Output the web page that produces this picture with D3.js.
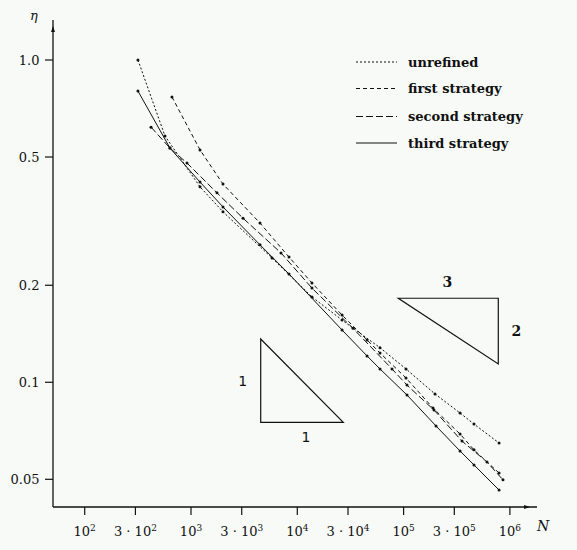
<!DOCTYPE html>
<html>
<head>
<meta charset="utf-8">
<script src="https://cdn.jsdelivr.net/npm/d3@7"></script>
<style>
  html, body { margin: 0; padding: 0; background: #f7faf7; }
  svg { display: block; font-family: "DejaVu Serif", serif; }
</style>
</head>
<body>
<svg id="chart" width="577" height="550"></svg>
<script>
// data (N = degrees of freedom, eta = error estimator)
const unrefinedN   = [317, 569, 1216, 2000, 5780, 13740, 26360, 59980, 105400, 197300, 339600, 459200, 790600];
const unrefinedEta = [1.0, 0.581, 0.404, 0.338, 0.243, 0.184, 0.156, 0.128, 0.110, 0.092, 0.0803, 0.0742, 0.0648];

const firstN   = [662, 1216, 2000, 4457, 8356, 13740, 26360, 45290, 59980, 105400, 189100, 339600, 459200, 790600];
const firstEta = [0.768, 0.526, 0.412, 0.312, 0.2446, 0.2033, 0.1617, 0.1353, 0.1233, 0.1031, 0.0832, 0.0691, 0.0617, 0.0523];

const secondN   = [421, 634, 917, 1756, 3085, 7024, 13740, 33420, 77800, 107700, 193200, 354300, 608700, 861000];
const secondEta = [0.619, 0.533, 0.479, 0.387, 0.323, 0.252, 0.196, 0.147, 0.110, 0.098, 0.082, 0.0657, 0.0566, 0.0498];

const thirdN   = [317, 634, 1216, 2000, 4457, 8356, 26360, 45290, 59980, 107700, 201700, 339600, 459200, 790600];
const thirdEta = [0.801, 0.533, 0.418, 0.350, 0.267, 0.2168, 0.1453, 0.1207, 0.1100, 0.0913, 0.0732, 0.0612, 0.0554, 0.0463];

const seriesNames = ["unrefined", "first strategy", "second strategy", "third strategy"];

const xTicks = [1e2, 3e2, 1e3, 3e3, 1e4, 3e4, 1e5, 3e5, 1e6];
const xTickBase = ["10", "3 · 10", "10", "3 · 10", "10", "3 · 10", "10", "3 · 10", "10"];
const xTickExp  = ["2", "2", "3", "3", "4", "4", "5", "5", "6"];
const yTicks = [1.0, 0.5, 0.2, 0.1, 0.05];
const yTickLabels = ["1.0", "0.5", "0.2", "0.1", "0.05"];

// slope triangles (N, eta corners)
const triangleLeft  = [[4526, 0.1362], [4526, 0.0751], [27080, 0.0751]];
const triangleRight = [[89150, 0.1823], [777700, 0.1823], [777700, 0.1140]];

const svg = d3.select("#chart");
const x = d3.scaleLog().domain([1e2, 1e6]).range([84.7, 509.9]);
const y = d3.scaleLog().domain([1.0, 0.05]).range([60, 479.3]);

const axisX0 = 53, axisY0 = 507;
const ink = "#111";

// axes lines with small arrow heads
svg.append("line").attr("x1", axisX0).attr("y1", axisY0).attr("x2", 537).attr("y2", axisY0)
  .attr("stroke", ink).attr("stroke-width", 1.3);
svg.append("line").attr("x1", axisX0).attr("y1", axisY0).attr("x2", axisX0).attr("y2", 20)
  .attr("stroke", ink).attr("stroke-width", 1.3);
svg.append("path").attr("d", "M530,507 L524,505 L524,509 Z").attr("fill", ink);
svg.append("path").attr("d", "M53,26 L51,32 L55,32 Z").attr("fill", ink);

// x ticks
const gx = svg.append("g");
gx.selectAll("line").data(xTicks).join("line")
  .attr("x1", d => x(d)).attr("x2", d => x(d))
  .attr("y1", axisY0).attr("y2", axisY0 + 8)
  .attr("stroke", ink).attr("stroke-width", 1.2);
const xt = gx.selectAll("text").data(xTicks).join("text")
  .attr("x", d => x(d)).attr("y", 536)
  .attr("text-anchor", "middle").attr("font-size", 13).attr("fill", ink);
xt.append("tspan").text((d, i) => xTickBase[i]);
xt.append("tspan").attr("dy", -5).attr("font-size", 9).text((d, i) => xTickExp[i]);

// y ticks
const gy = svg.append("g");
gy.selectAll("line").data(yTicks).join("line")
  .attr("x1", axisX0 - 8).attr("x2", axisX0)
  .attr("y1", d => y(d)).attr("y2", d => y(d))
  .attr("stroke", ink).attr("stroke-width", 1.2);
gy.selectAll("text").data(yTicks).join("text")
  .attr("x", 39.5).attr("y", d => y(d) + 4.5)
  .attr("text-anchor", "end").attr("font-size", 13).attr("fill", ink)
  .text((d, i) => yTickLabels[i]);

// axis titles
svg.append("text").attr("x", 34).attr("y", 20).attr("text-anchor", "middle")
  .attr("font-size", 13).attr("font-style", "italic").attr("fill", ink).text("η");
svg.append("text").attr("x", 537).attr("y", 531)
  .attr("font-size", 14).attr("font-style", "italic").attr("fill", ink).text("N");

// series
const series = [
  { N: unrefinedN, eta: unrefinedEta, dash: "2,2" },
  { N: firstN, eta: firstEta, dash: "4,3" },
  { N: secondN, eta: secondEta, dash: "7,3" },
  { N: thirdN, eta: thirdEta, dash: null }
];
const line = d3.line().x(d => x(d[0])).y(d => y(d[1]));

series.forEach(s => {
  const pts = s.N.map((n, i) => [n, s.eta[i]]);
  svg.append("path").datum(pts)
    .attr("d", line).attr("fill", "none")
    .attr("stroke", ink).attr("stroke-width", 1)
    .attr("stroke-dasharray", s.dash);
  svg.append("g").selectAll("circle").data(pts).join("circle")
    .attr("cx", d => x(d[0])).attr("cy", d => y(d[1]))
    .attr("r", 1.5).attr("fill", ink);
});

// legend
const legY = [62, 88.5, 116.5, 143];
const leg = svg.append("g");
series.forEach((s, i) => {
  leg.append("line").attr("x1", 356).attr("x2", 397)
    .attr("y1", legY[i]).attr("y2", legY[i])
    .attr("stroke", ink).attr("stroke-width", 1)
    .attr("stroke-dasharray", s.dash);
  leg.append("text").attr("x", 408).attr("y", legY[i] + 4.5)
    .attr("font-size", 13).attr("font-weight", "bold").attr("fill", ink)
    .text(seriesNames[i]);
});

// slope triangles
const triPath = t => "M" + t.map(p => [x(p[0]), y(p[1])].join(",")).join("L") + "Z";
svg.append("path").attr("d", triPath(triangleLeft))
  .attr("fill", "none").attr("stroke", ink).attr("stroke-width", 1.2);
svg.append("path").attr("d", triPath(triangleRight))
  .attr("fill", "none").attr("stroke", ink).attr("stroke-width", 1.2);

const tl = triangleLeft, tr = triangleRight;
svg.append("text").attr("x", x(tl[0][0]) - 18).attr("y", (y(tl[0][1]) + y(tl[1][1])) / 2 + 5)
  .attr("text-anchor", "middle").attr("font-family", "DejaVu Sans").attr("font-size", 14)
  .attr("fill", ink).text("1");
svg.append("text").attr("x", (x(tl[1][0]) + x(tl[2][0])) / 2 + 4).attr("y", y(tl[1][1]) + 20)
  .attr("text-anchor", "middle").attr("font-family", "DejaVu Sans").attr("font-size", 14)
  .attr("fill", ink).text("1");
svg.append("text").attr("x", (x(tr[0][0]) + x(tr[1][0])) / 2 - 1).attr("y", y(tr[0][1]) - 11)
  .attr("text-anchor", "middle").attr("font-size", 14).attr("font-weight", "bold")
  .attr("fill", ink).text("3");
svg.append("text").attr("x", x(tr[1][0]) + 18).attr("y", (y(tr[1][1]) + y(tr[2][1])) / 2 + 5)
  .attr("text-anchor", "middle").attr("font-size", 14).attr("font-weight", "bold")
  .attr("fill", ink).text("2");
</script>
</body>
</html>
